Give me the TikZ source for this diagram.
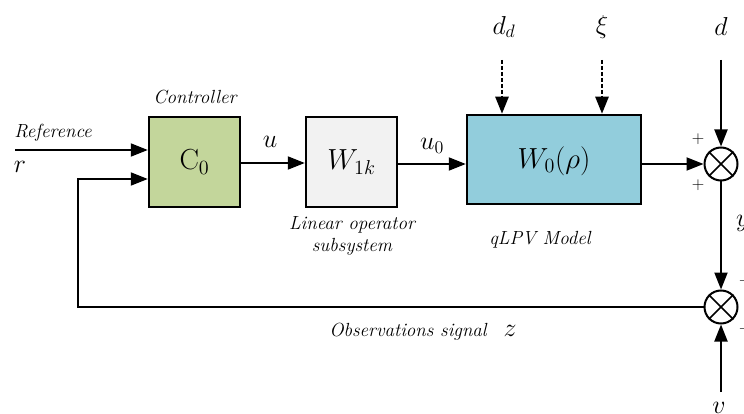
\documentclass[tikz,border=0pt]{standalone}
\usepackage{graphicx}
\usetikzlibrary{arrows.meta}
\definecolor{cgreen}{HTML}{C3D69B}
\definecolor{cgray}{HTML}{F2F2F2}
\definecolor{cblue}{HTML}{92CDDC}
\newcommand{\mysc}[1]{\scalebox{1.25}{#1}}
\newcommand{\mybsc}[1]{\scalebox{1.4}{#1}}
\begin{document}
\begin{tikzpicture}[x=1pt,y=-1pt, line width=2pt,
  blk/.style={draw, line width=2.5pt, inner sep=0pt},
  arr/.style={-{Triangle[length=17pt,width=13pt]}},
  sumj/.style={draw, circle, line width=2pt, minimum size=33pt, inner sep=0pt},
  lbl/.style={font=\fontsize{19}{22}\selectfont\itshape, inner sep=0pt},
  mlbl/.style={font=\fontsize{20}{22}\selectfont, inner sep=0pt},
  pl/.style={font=\fontsize{16}{18}\selectfont, inner sep=0pt}]
\useasboundingbox (0,0) rectangle (744,414);
% blocks
\node[blk, fill=cgreen, minimum width=91pt, minimum height=90pt] (C) at (194.5,162) {};
\node[mlbl] (Ct) at (194.5,162) {\mybsc{$\mathrm{C}_{0}$}};
\node[blk, fill=cgray, minimum width=91pt, minimum height=90pt] (W1) at (351.5,162) {};
\node[mlbl] (W1t) at (351.5,162) {\mybsc{$W_{1k}$}};
\node[blk, fill=cblue, minimum width=174pt, minimum height=89pt] (W0) at (554,159.5) {};
\node[mlbl] (W0t) at (554,161) {\mybsc{$W_{0}(\rho)$}};
% summing junctions
\node[sumj] (s1) at (721,164) {};
\draw[line width=1.5pt] (s1.north west) -- (s1.south east) (s1.north east) -- (s1.south west);
\node[sumj] (s2) at (721,307) {};
\draw[line width=1.5pt] (s2.north west) -- (s2.south east) (s2.north east) -- (s2.south west);
% coordinates
\coordinate (rin) at (15,150);
\coordinate (fbc) at (78,307);
\coordinate (fbu) at (78,179);
\coordinate (ddt) at (502,60);
\coordinate (xit) at (602,60);
\coordinate (dt) at (721,60);
\coordinate (vb) at (721,392);
% connectors
\draw[arr] (rin) -- (rin -| C.west);
\draw[arr] (s2.west) -- (fbc) -- (fbu) -- (fbu -| C.west);
\draw[arr] (C.east |- 0,163) -- (W1.west |- 0,163);
\draw[arr] (W1.east |- 0,164) -- (W0.west |- 0,164);
\draw[arr] (W0.east |- s1.west) -- (s1.west);
\draw[arr, line width=2.5pt, dash pattern=on 4pt off 2pt] (ddt) -- (ddt |- W0.north);
\draw[arr, line width=2.5pt, dash pattern=on 4pt off 2pt] (xit) -- (xit |- W0.north);
\draw[arr] (dt) -- (s1.north);
\draw[arr] (s1.south) -- (s2.north);
\draw[arr] (vb) -- (s2.south);
% labels
\node[lbl] (lc) at (195,97) {Controller};
\node[lbl] (lref) at (53,133) {Reference};
\node[mlbl] (lr) at (20,167) {\mysc{$r$}};
\node[mlbl] (lu) at (270,142) {\mysc{$u$}};
\node[mlbl] (lu0) at (432,146) {\mysc{$u_{0}$}};
\node[lbl, align=center] (llin) at (352,236) {Linear operator\\subsystem};
\node[lbl] (lq) at (540,240) {qLPV Model};
\node[mlbl] (ldd) at (504,27) {\mysc{$d_{d}$}};
\node[mlbl] (lxi) at (602,27) {\mysc{$\xi$}};
\node[mlbl] (ld) at (721,27) {\mysc{$d$}};
\node[pl] (p1) at (698,139) {$+$};
\node[pl] (p2) at (698,185) {$+$};
\node[mlbl, anchor=west] (ly) at (735,223) {\mysc{$y$}};
\node[pl, anchor=west] (p3) at (738,281) {$+$};
\node[pl, anchor=west] (p4) at (738,329) {$+$};
\node[mlbl] (lv) at (719,408) {\mysc{$v$}};
\node[lbl] (lobs) at (408,332) {Observations signal};
\node[mlbl] (lz) at (510,331) {\mysc{$z$}};
\end{tikzpicture}
\end{document}
